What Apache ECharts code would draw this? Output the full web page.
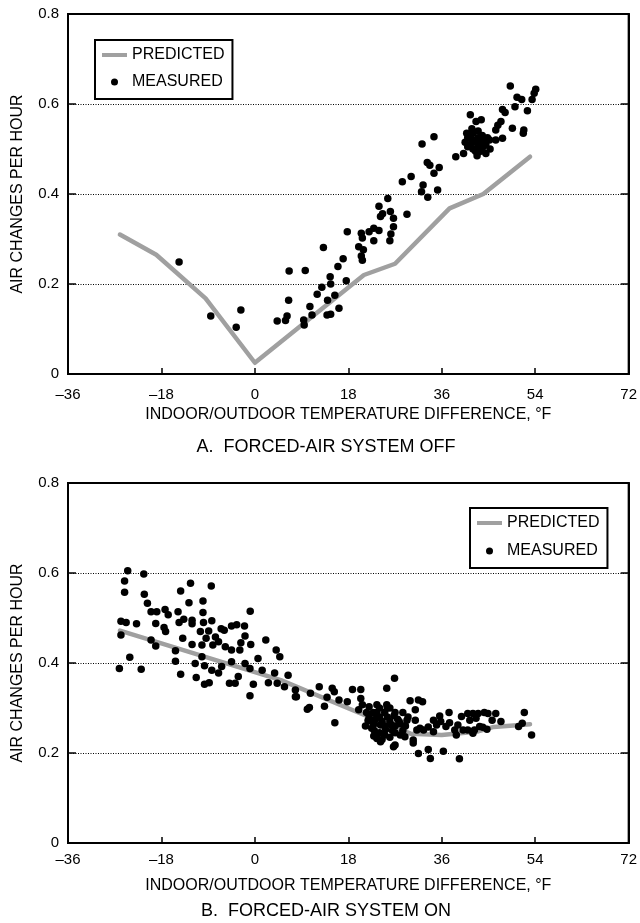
<!DOCTYPE html>
<html>
<head>
<meta charset="utf-8">
<script src="https://cdn.jsdelivr.net/npm/echarts@6/dist/echarts.min.js"></script>
<style>
html,body{margin:0;padding:0;background:#fff;}
#chart{width:640px;height:923px;}
</style>
</head>
<body>
<div id="chart"></div>
<script>
var xTicks = [-36, -18, 0, 18, 36, 54, 72];
var xTickLabels = ['\u201336', '\u201318', '0', '18', '36', '54', '72'];
var yTicks = [0, 0.2, 0.4, 0.6, 0.8];
var yTickLabels = ['0', '0.2', '0.4', '0.6', '0.8'];
var seriesNames = ['PREDICTED', 'MEASURED'];
var subtitles = ['A.  FORCED-AIR SYSTEM OFF', 'B.  FORCED-AIR SYSTEM ON'];
var xAxisTitle = 'INDOOR/OUTDOOR TEMPERATURE DIFFERENCE, \u00B0F';
var yAxisTitle = 'AIR CHANGES PER HOUR';

var predictedOff = [[-26,0.31],[-19,0.265],[-9.5,0.168],[0,0.025],[21,0.22],[27,0.245],[37.5,0.368],[44,0.40],[53,0.483]];
var measuredOff = [
[49.2,0.640],[54.1,0.633],[53.8,0.624],[53.4,0.610],[50.5,0.615],[51.4,0.610],[50.1,0.594],[47.7,0.588],[48.2,0.581],[52.5,0.585],
[41.5,0.576],[43.6,0.565],[42.6,0.561],[47.4,0.561],[46.8,0.553],[46.4,0.542],[49.6,0.546],[51.8,0.542],[51.7,0.535],[47.7,0.524],
[46.4,0.520],[45.2,0.520],
[40.5,0.515],[41,0.505],[41,0.525],[41.5,0.53],[41.5,0.51],[42,0.52],[42,0.50],[42,0.535],[42.5,0.515],[42.5,0.495],
[43,0.525],[43,0.505],[43,0.54],[43.5,0.515],[43.5,0.495],[44,0.52],[44,0.505],[44.5,0.51],[44.5,0.49],[41.8,0.545],
[40.8,0.535],[42.8,0.485],[44.8,0.525],[45.3,0.50],[40.2,0.49],[43.8,0.53],
[38.7,0.483],[34.5,0.527],[32.2,0.511],[33.2,0.470],[33.7,0.464],[35.5,0.459],[34.5,0.446],[28.4,0.427],[30.1,0.439],[32.4,0.420],
[32.1,0.405],[33.3,0.393],[35.2,0.409],[25.6,0.390],[23.9,0.373],[24.6,0.356],[26.1,0.361],[26.7,0.346],[29.3,0.355],[24.2,0.350],
[22.9,0.324],[23.9,0.319],[26.7,0.327],[26.2,0.311],[26.0,0.296],[22.0,0.316],[20.5,0.313],[20.7,0.302],[20.0,0.283],[20.9,0.276],
[22.9,0.296],[17.8,0.316],[20.7,0.253],[20.5,0.262],[13.2,0.281],[17.0,0.256],[16.0,0.239],[17.6,0.207],[14.5,0.216],[14.6,0.200],
[12.9,0.193],[12.0,0.177],[15.4,0.175],[14.0,0.164],[6.6,0.229],[9.7,0.230],[6.5,0.164],[10.6,0.150],[11.0,0.131],[9.4,0.120],
[9.5,0.109],[6.2,0.129],[5.9,0.119],[4.3,0.118],[13.9,0.131],[14.6,0.133],[16.2,0.146],[-14.6,0.249],[-8.5,0.129],[-2.7,0.142],
[-3.6,0.104]
];

var predictedOn = [[-26,0.472],[5,0.362],[22,0.28],[30,0.243],[36,0.240],[43,0.248],[46,0.258],[53,0.264]];
var measuredOn = [
[-24.5,0.605],[-21.4,0.598],[-25.1,0.582],[-25.1,0.557],[-12.4,0.577],[-8.4,0.571],[-14.3,0.560],[-21.3,0.553],[-20.7,0.533],[-12.7,0.534],
[-10.0,0.538],[-0.9,0.515],[-20.0,0.514],[-18.9,0.514],[-17.3,0.519],[-16.7,0.507],[-14.8,0.514],[-10.0,0.512],[-25.8,0.493],[-24.8,0.490],
[-22.8,0.487],[-19.1,0.488],[-17.5,0.479],[-17.2,0.470],[-14.6,0.490],[-13.7,0.497],[-12.1,0.495],[-12.1,0.487],[-9.9,0.490],[-8.3,0.494],
[-6.5,0.476],[-5.9,0.473],[-4.5,0.482],[-3.5,0.485],[-2.0,0.482],[-10.5,0.470],[-8.9,0.471],[-7.6,0.458],[-25.8,0.462],[-20.0,0.451],
[-19.1,0.438],[-13.9,0.455],[-12.1,0.441],[-10.2,0.440],[-9.4,0.455],[-8.1,0.440],[-7.0,0.447],[-5.7,0.436],[-4.5,0.429],[-2.7,0.445],
[-1.9,0.460],[-0.8,0.441],[2.1,0.451],[-2.9,0.429],[-15.3,0.427],[-24.1,0.413],[-15.3,0.404],[-11.5,0.399],[-10.2,0.414],[-9.7,0.394],
[-8.3,0.384],[-6.4,0.392],[-4.5,0.403],[-1.9,0.399],[-0.95,0.388],[0.6,0.410],[4.1,0.429],[4.8,0.414],[-26.1,0.388],[-21.9,0.386],
[-14.3,0.375],[-11.3,0.368],[-9.7,0.353],[-8.8,0.356],[-7.0,0.378],[-4.9,0.355],[-3.8,0.355],[-3.2,0.370],[-0.3,0.353],[-0.95,0.327],
[1.4,0.384],[2.6,0.356],[3.8,0.378],[4.3,0.355],[6.4,0.373],[5.7,0.347],[7.8,0.340],[7.8,0.325],
[8.0,0.325],[10.7,0.333],[12.4,0.347],[14.9,0.344],[15.3,0.336],[13.9,0.324],[16.2,0.318],[10.1,0.297],[10.5,0.301],[13.4,0.304],
[15.4,0.267],[17.8,0.314],[18.8,0.341],[20.4,0.341],[25.4,0.344],[26.9,0.366],[20.4,0.321],[20.7,0.307],[20.0,0.296],[29.9,0.316],
[31.5,0.318],[32.3,0.314],[30.9,0.296],[22.0,0.303],[23.5,0.307],[25.4,0.307],
[21.5,0.29],[22,0.28],[22.5,0.27],[23,0.265],[23.5,0.29],[24,0.30],[24,0.28],[24.5,0.27],[25,0.26],[25,0.29],
[25.5,0.28],[26,0.27],[26,0.30],[26.5,0.25],[27,0.26],[27,0.29],[27.5,0.275],[28,0.24],[28,0.265],[28.5,0.29],
[29,0.26],[23,0.25],[24,0.245],[22.5,0.255],[25,0.24],[26,0.235],[24.5,0.23],[23.5,0.232],[27,0.245],[28.5,0.25],
[21.8,0.272],[22.8,0.29],[25.5,0.30],[26.8,0.283],[29.5,0.28],[23.2,0.275],[24.2,0.262],[26.3,0.262],[27.8,0.27],[25.2,0.252],
[21.3,0.260],[22.9,0.238],[24.2,0.225],[27.0,0.218],[26.7,0.214],[28.9,0.236],[30.5,0.229],[30.5,0.222],[31.5,0.199],[33.4,0.208],
[33.8,0.188],[36.3,0.204],[39.4,0.187],[30.9,0.273],[31.8,0.255],[33.4,0.258],[34.4,0.247],[35.6,0.282],[35.8,0.270],[37.4,0.290],
[36.8,0.259],[37.5,0.267],[38.5,0.251],[38.8,0.240],[39.8,0.281],[40.1,0.251],[41.0,0.288],[41.4,0.273],[42.0,0.288],[42.6,0.277],
[43.0,0.288],[42.3,0.251],[43.9,0.257],[44.2,0.290],[44.9,0.288],[45.7,0.273],[46.4,0.288],[47.4,0.270],[50.8,0.259],[51.5,0.266],
[51.9,0.290],[53.3,0.240],[41.0,0.251],[39.1,0.262],[35.0,0.262],[34.4,0.273],[32.5,0.251],[29.3,0.273],[31.2,0.251],[42.0,0.244],
[43.3,0.259],[44.7,0.253]
];

var FONT = 'Liberation Sans, Arial, sans-serif';
var LINE_COLOR = '#a0a0a0';
var chart = echarts.init(document.getElementById('chart'), null, {renderer: 'canvas'});

function xLabel(v) { var i = xTicks.indexOf(v); return i >= 0 ? xTickLabels[i] : ''; }
function yLabel(v) {
  for (var i = 0; i < yTicks.length; i++) { if (Math.abs(yTicks[i] - v) < 1e-9) return yTickLabels[i]; }
  return '';
}

function makeX(gi, margin, nameGap) {
  return {
    gridIndex: gi, type: 'value', min: -36, max: 72, interval: 18,
    axisLine: {show: true, onZero: false, lineStyle: {color: '#000', width: 2}},
    axisTick: {show: true, inside: true, length: 6, lineStyle: {color: '#000', width: 1.5}},
    axisLabel: {formatter: xLabel, color: '#000', fontSize: 15, fontFamily: FONT, margin: margin},
    splitLine: {show: false},
    name: xAxisTitle, nameLocation: 'middle', nameGap: nameGap,
    nameTextStyle: {color: '#000', fontSize: 16, fontFamily: FONT}
  };
}
function makeYLeft(gi) {
  return {
    gridIndex: gi, type: 'value', min: 0, max: 0.8, interval: 0.2, position: 'left',
    axisLine: {show: true, onZero: false, lineStyle: {color: '#000', width: 2}},
    axisTick: {show: true, inside: true, length: 8, lineStyle: {color: '#000', width: 1.5}},
    axisLabel: {formatter: yLabel, color: '#000', fontSize: 15, fontFamily: FONT, margin: 9},
    splitLine: {show: true, lineStyle: {color: '#000', width: 1, type: [1, 1.5]}},
    name: yAxisTitle, nameLocation: 'middle', nameGap: 42, nameRotate: 90,
    nameTextStyle: {color: '#000', fontSize: 16, fontFamily: FONT}
  };
}
function makeYRight(gi) {
  return {
    gridIndex: gi, type: 'value', min: 0, max: 0.8, interval: 0.2, position: 'right',
    axisLine: {show: true, onZero: false, lineStyle: {color: '#000', width: 2}},
    axisTick: {show: true, inside: true, length: 8, lineStyle: {color: '#000', width: 1.5}},
    axisLabel: {show: false},
    splitLine: {show: false}
  };
}
function legendFor(left, top, gap) {
  return {
    data: [
      {name: seriesNames[0], icon: 'path://M0,0L25,0L25,4L0,4Z', itemStyle: {color: LINE_COLOR}},
      {name: seriesNames[1], icon: 'circle', itemStyle: {color: '#000'}}
    ],
    orient: 'vertical', left: left, top: top,
    itemWidth: 25, itemHeight: 7, itemGap: gap,
    padding: [7, 8, 9, 7],
    borderColor: '#000', borderWidth: 2, backgroundColor: '#fff',
    selectedMode: false,
    textStyle: {color: '#000', fontSize: 16, fontFamily: FONT}
  };
}
function predSeries(gi, data) {
  return {
    name: seriesNames[0], type: 'line', xAxisIndex: gi, yAxisIndex: gi * 2, data: data,
    showSymbol: false, symbol: 'none', silent: true, animation: false,
    lineStyle: {color: LINE_COLOR, width: 4.5, join: 'round', cap: 'round'},
    itemStyle: {color: LINE_COLOR}, z: 2
  };
}
function measSeries(gi, data) {
  return {
    name: seriesNames[1], type: 'scatter', xAxisIndex: gi, yAxisIndex: gi * 2, data: data,
    symbol: 'circle', symbolSize: 7.5, silent: true, animation: false,
    itemStyle: {color: '#000', opacity: 1}, z: 3
  };
}

chart.setOption({
  animation: false,
  backgroundColor: '#fff',
  title: [
    {text: subtitles[0], left: 326, top: 438, textAlign: 'center', padding: 0,
     textStyle: {color: '#000', fontSize: 18, fontWeight: 'normal', fontFamily: FONT}},
    {text: subtitles[1], left: 326, top: 902, textAlign: 'center', padding: 0,
     textStyle: {color: '#000', fontSize: 18, fontWeight: 'normal', fontFamily: FONT}}
  ],
  legend: [legendFor(95, 40, 11), legendFor(470, 508, 12)],
  grid: [
    {left: 68, right: 6, top: 14, height: 360, show: true, borderColor: '#000', borderWidth: 2, backgroundColor: 'transparent'},
    {left: 68, right: 6, top: 483, height: 360, show: true, borderColor: '#000', borderWidth: 2, backgroundColor: 'transparent'}
  ],
  xAxis: [makeX(0, 13, 33), makeX(1, 9, 35)],
  yAxis: [makeYLeft(0), makeYRight(0), makeYLeft(1), makeYRight(1)],
  series: [predSeries(0, predictedOff), measSeries(0, measuredOff), predSeries(1, predictedOn), measSeries(1, measuredOn)]
});
</script>
</body>
</html>
